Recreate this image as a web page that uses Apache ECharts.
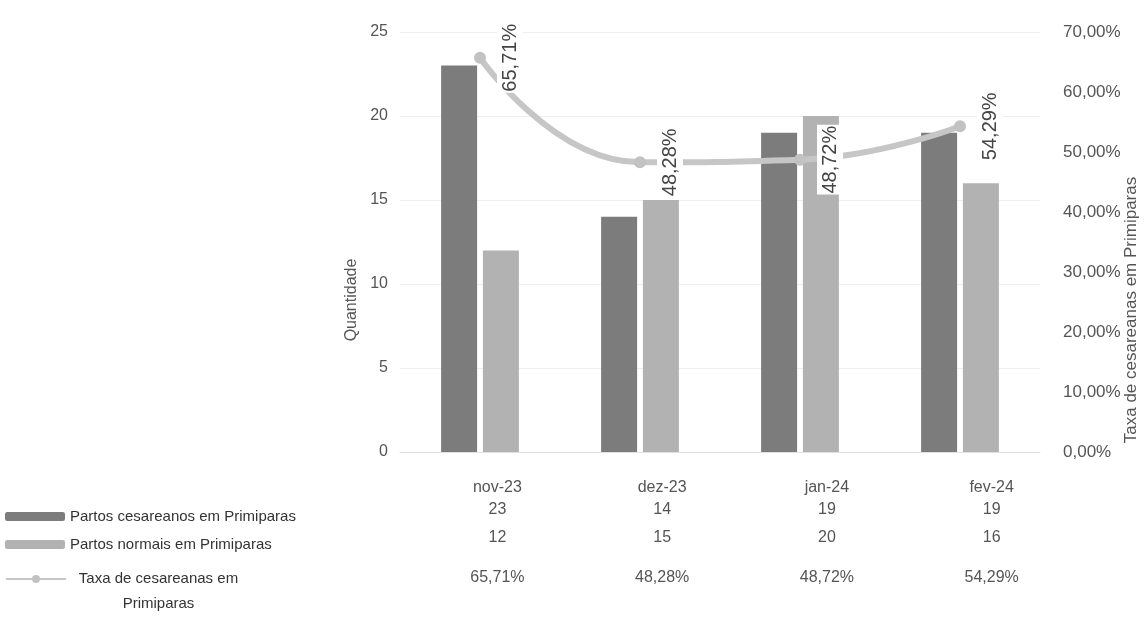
<!DOCTYPE html>
<html>
<head>
<meta charset="utf-8">
<script src="https://cdn.jsdelivr.net/npm/echarts@6/dist/echarts.min.js"></script>
<style>html,body{margin:0;padding:0;background:#fff}#c{width:1146px;height:639px}</style>
</head>
<body>
<div id="c"></div>
<script>
const categories = ['nov-23', 'dez-23', 'jan-24', 'fev-24'];
const cesareanos = [23, 14, 19, 19];
const normais = [12, 15, 20, 16];
const taxa = [65.71, 48.28, 48.72, 54.29];
const leftTicks = {min: 0, max: 25, interval: 5};
const rightTicks = {min: 0, max: 70, interval: 10};
const nameCes = 'Partos cesareanos em Primiparas';
const nameNor = 'Partos normais em Primiparas';
const nameTaxa = 'Taxa de cesareanas em Primiparas';

const FONT = "'Liberation Sans', Arial, sans-serif";
const TXT = '#555';
const pct = v => Number(v).toFixed(2).replace('.', ',') + '%';

const chart = echarts.init(document.getElementById('c'));
const tableRow = (offset, fn) => ({
  type: 'category', gridIndex: 1, data: categories, position: 'bottom', offset: offset,
  axisLine: {show: false}, axisTick: {show: false},
  axisLabel: {margin: 0, fontSize: 16, color: TXT, fontFamily: FONT, formatter: fn}
});

chart.setOption({
  animation: false,
  backgroundColor: '#fff',
  textStyle: {fontFamily: FONT},
  grid: [
    {left: 400, right: 106, top: 32, bottom: 187, outerBoundsMode: 'none', containLabel: false},
    {left: 415, right: 72, top: 32, bottom: 187, outerBoundsMode: 'none', containLabel: false}
  ],
  xAxis: [
    {type: 'category', gridIndex: 0, data: categories,
     axisLine: {lineStyle: {color: '#e2e2e2'}}, axisTick: {show: false},
     axisLabel: {show: false}},
    tableRow(28, (v) => v),
    tableRow(50, (v, i) => String(cesareanos[i])),
    tableRow(78, (v, i) => String(normais[i])),
    tableRow(118, (v, i) => pct(taxa[i]))
  ],
  yAxis: [
    {type: 'value', gridIndex: 0, min: leftTicks.min, max: leftTicks.max, interval: leftTicks.interval,
     name: 'Quantidade', nameLocation: 'middle', nameGap: 40, nameMoveOverlap: false,
     nameTextStyle: {fontSize: 16, color: TXT, fontFamily: FONT, padding: [0, 116, 0, 0]},
     axisLine: {show: false}, axisTick: {show: false},
     axisLabel: {fontSize: 16, color: TXT, margin: 12, fontFamily: FONT},
     splitLine: {lineStyle: {color: '#eeeeee'}}},
    {type: 'value', gridIndex: 0, position: 'right', min: rightTicks.min, max: rightTicks.max, interval: rightTicks.interval,
     name: nameTaxa, nameLocation: 'middle', nameGap: 83, nameMoveOverlap: false,
     nameTextStyle: {fontSize: 17, color: TXT, fontFamily: FONT, padding: [0, 136, 0, 0]},
     axisLine: {show: false}, axisTick: {show: false},
     axisLabel: {fontSize: 17, color: TXT, margin: 23, fontFamily: FONT, formatter: pct},
     splitLine: {show: false}},
    {type: 'value', gridIndex: 1, show: false}
  ],
  legend: [
    {data: [nameCes], left: 5, top: 509, padding: 0, itemWidth: 60, itemHeight: 9, itemGap: 0,
     textStyle: {fontSize: 15, color: '#333', fontFamily: FONT}},
    {data: [nameNor], left: 5, top: 537, padding: 0, itemWidth: 60, itemHeight: 9, itemGap: 0,
     textStyle: {fontSize: 15, color: '#333', fontFamily: FONT}},
    {data: [nameTaxa], left: 5, top: 571, padding: 0, itemWidth: 60, itemHeight: 10, itemGap: 0,
     formatter: () => '{a|Taxa de cesareanas em}\n{a|Primiparas}',
     textStyle: {fontSize: 15, color: '#333', fontFamily: FONT, padding: [24, 0, 0, 0],
       rich: {a: {fontSize: 15, color: '#333', fontFamily: FONT, width: 175, align: 'center', lineHeight: 25}}}}
  ],
  series: [
    {name: nameCes, type: 'bar', xAxisIndex: 0, yAxisIndex: 0, data: cesareanos,
     barWidth: 36, barGap: '16%', itemStyle: {color: '#7c7c7c'}},
    {name: nameNor, type: 'bar', xAxisIndex: 0, yAxisIndex: 0, data: normais,
     barWidth: 36, itemStyle: {color: '#b2b2b2'}},
    {name: nameTaxa, type: 'line', xAxisIndex: 0, yAxisIndex: 1, data: taxa, smooth: true,
     symbol: 'circle', symbolSize: 12,
     lineStyle: {color: '#c6c6c6', width: 6}, itemStyle: {color: '#c2c2c2'},
     label: {show: true, position: 'right', distance: 24, rotate: 90, align: 'center', verticalAlign: 'middle',
       offset: [0, 0], fontSize: 20, color: '#444', fontFamily: FONT, formatter: p => pct(p.value),
       backgroundColor: '#fff', padding: [3, 1, 3, 1]},
     z: 5}
  ]
});
</script>
</body>
</html>
